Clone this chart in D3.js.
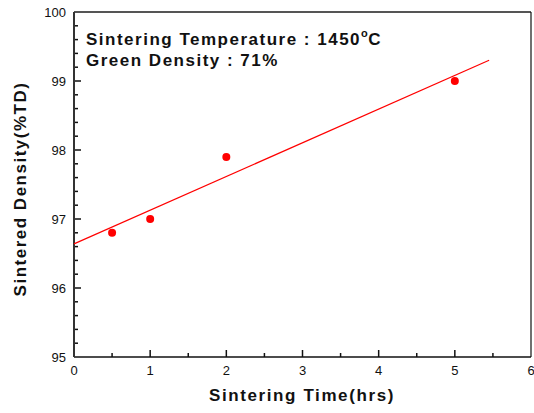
<!DOCTYPE html>
<html><head><meta charset="utf-8">
<script src="https://cdn.jsdelivr.net/npm/d3@7"></script>
<style>body{margin:0;background:#fff}svg{display:block}text{font-family:"Liberation Sans",Arial,sans-serif}</style>
</head><body><svg id="c" width="534" height="413"></svg>
<script>
const timeHrs = [0.5, 1, 2, 5];
const density = [96.8, 97.0, 97.9, 99.0];
const fitX = [0, 5.45];
const fitY = [96.64, 99.30];
const xTicks = [0, 1, 2, 3, 4, 5, 6];
const yTicks = [95, 96, 97, 98, 99, 100];

const svg = d3.select("#c");
const L = 74, R = 531, T = 12, B = 357;
const x = d3.scaleLinear().domain([0, 6]).range([L, R]);
const y = d3.scaleLinear().domain([95, 100]).range([B, T]);

// frame
svg.append("line").attr("x1", L).attr("x2", R).attr("y1", T).attr("y2", T).attr("stroke", "#555").attr("stroke-width", 2);
svg.append("line").attr("x1", R).attr("x2", R).attr("y1", T).attr("y2", B).attr("stroke", "#111").attr("stroke-width", 1.2);

// x axis
const xMinor = d3.range(0.5, 6, 1);
const gx = svg.append("g");
gx.selectAll(".mj").data(xTicks.slice(1, -1)).enter().append("line")
  .attr("x1", d => x(d)).attr("x2", d => x(d)).attr("y1", B).attr("y2", B - 7).attr("stroke", "#111").attr("stroke-width", 1.5);
gx.selectAll(".mn").data(xMinor).enter().append("line")
  .attr("x1", d => x(d)).attr("x2", d => x(d)).attr("y1", B).attr("y2", B - 4).attr("stroke", "#111").attr("stroke-width", 1.5);
gx.append("line").attr("x1", L).attr("x2", R).attr("y1", B).attr("y2", B).attr("stroke", "#111").attr("stroke-width", 1.5);
gx.selectAll("text").data(xTicks).enter().append("text")
  .attr("x", d => x(d)).attr("y", 375).attr("text-anchor", "middle").attr("font-size", 13).attr("fill", "#111").text(d => d);

// y axis
const yMinor = d3.range(95.2, 100, 0.2).filter(v => Math.abs(v - Math.round(v)) > 0.05);
const gy = svg.append("g");
gy.selectAll(".mj").data(yTicks.slice(1, -1)).enter().append("line")
  .attr("x1", L).attr("x2", L + 7).attr("y1", d => y(d)).attr("y2", d => y(d)).attr("stroke", "#111").attr("stroke-width", 1.5);
gy.selectAll(".mn").data(yMinor).enter().append("line")
  .attr("x1", L).attr("x2", L + 4).attr("y1", d => y(d)).attr("y2", d => y(d)).attr("stroke", "#111").attr("stroke-width", 1.5);
gy.append("line").attr("x1", L).attr("x2", L).attr("y1", T).attr("y2", B).attr("stroke", "#333").attr("stroke-width", 2);
gy.selectAll("text").data(yTicks).enter().append("text")
  .attr("x", 66).attr("y", d => y(d) + 5).attr("text-anchor", "end").attr("font-size", 13).attr("fill", "#111").text(d => d);

// fit line
svg.append("path").datum(d3.zip(fitX, fitY))
  .attr("d", d3.line().x(d => x(d[0])).y(d => y(d[1])))
  .attr("fill", "none").attr("stroke", "#ff0000").attr("stroke-width", 1.2);

// points
svg.selectAll("circle").data(d3.zip(timeHrs, density)).enter().append("circle")
  .attr("cx", d => x(d[0])).attr("cy", d => y(d[1])).attr("r", 4).attr("fill", "#ff0000");

// annotations
const ann = svg.append("g").attr("font-weight", "bold").attr("font-size", 17).attr("fill", "#111").attr("letter-spacing", 1.5);
const t1 = ann.append("text").attr("x", 86).attr("y", 45);
t1.append("tspan").text("Sintering Temperature : 1450");
t1.append("tspan").attr("dy", -8).attr("font-size", 11).attr("letter-spacing", 0.5).text("o");
t1.append("tspan").attr("dy", 8).text("C");
ann.append("text").attr("x", 86).attr("y", 66).text("Green Density : 71%");

// axis titles
svg.append("text").attr("x", 302).attr("y", 401).attr("text-anchor", "middle")
  .attr("font-weight", "bold").attr("font-size", 17).attr("letter-spacing", 1.6).attr("fill", "#111").text("Sintering Time(hrs)");
svg.append("text").attr("transform", "translate(26,189) rotate(-90)").attr("text-anchor", "middle")
  .attr("font-weight", "bold").attr("font-size", 17).attr("letter-spacing", 1.5).attr("fill", "#111").text("Sintered Density(%TD)");
</script></body></html>
